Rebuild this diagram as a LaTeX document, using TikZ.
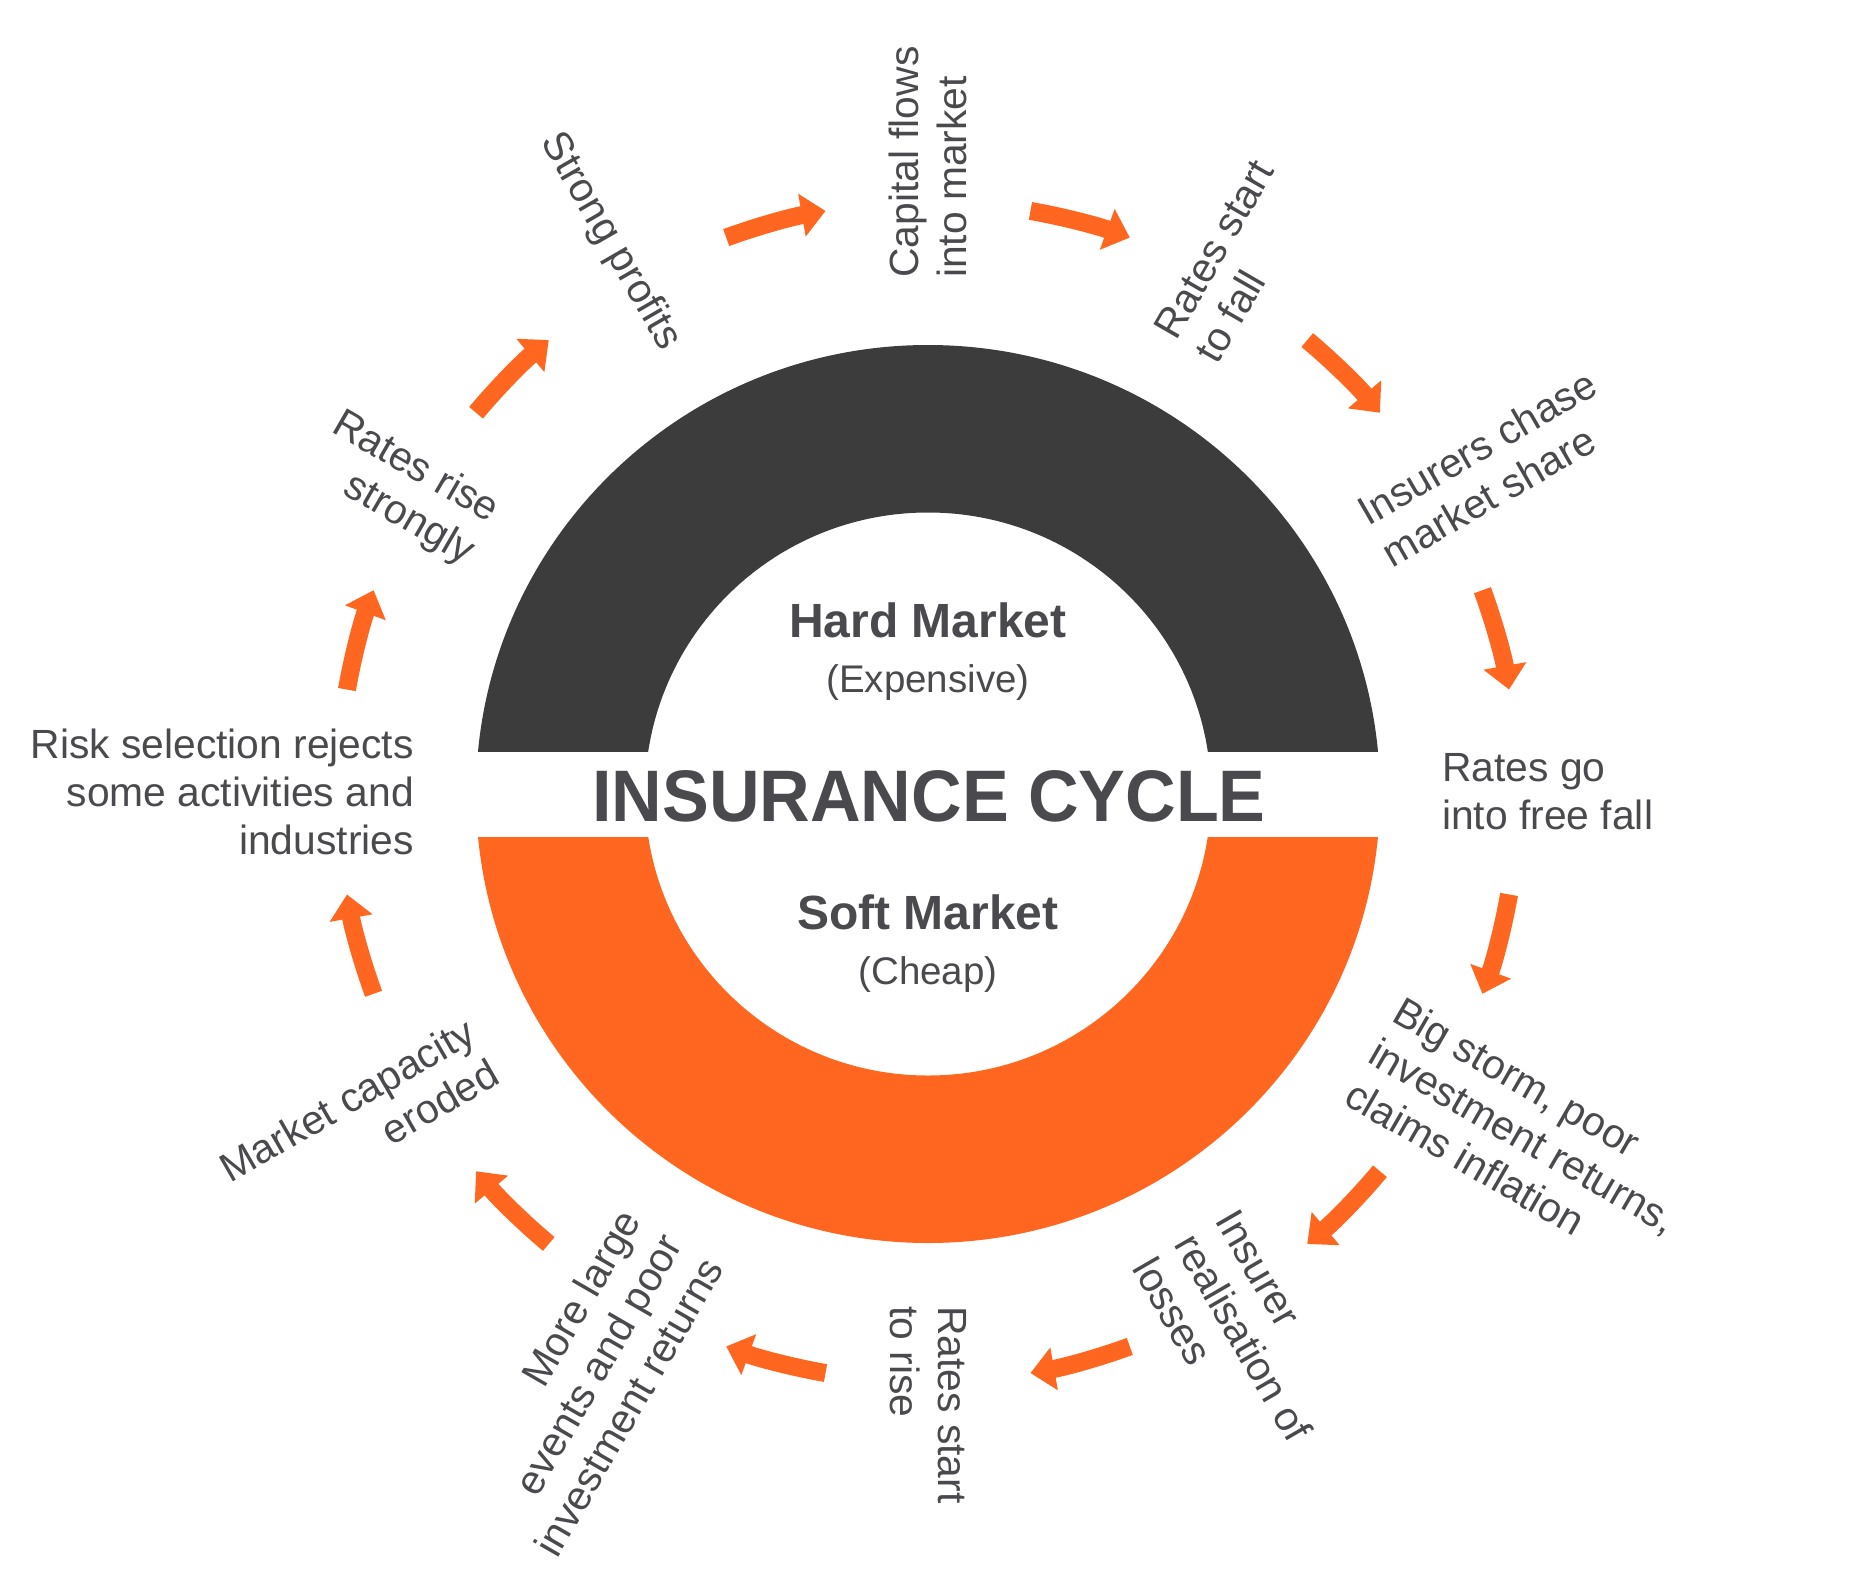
\documentclass[tikz,border=0pt]{standalone}
\usepackage{fontspec}
\setmainfont{Liberation Sans}
\newfontfamily\titlefont[FakeStretch=0.96]{Liberation Sans}
\usetikzlibrary{arrows.meta,calc}
\definecolor{ringdark}{HTML}{3C3C3C}
\definecolor{ringorange}{HTML}{FF6720}
\definecolor{txtgray}{HTML}{4A4A4E}
\begin{document}
\begin{tikzpicture}[x=1pt,y=1pt,
  lab/.style={text=txtgray,inner sep=0pt,font=\fontsize{40.8}{48}\selectfont},
  labR/.style={lab,anchor=west,align=left},
  labL/.style={lab,anchor=east,align=right},
  headtxt/.style={text=txtgray,inner sep=0pt,anchor=base,font=\fontsize{48}{56}\selectfont\bfseries},
  subtxt/.style={text=txtgray,inner sep=0pt,anchor=base,font=\fontsize{38.5}{46}\selectfont},
  titletxt/.style={text=txtgray,inner sep=0pt,anchor=base,font=\titlefont\fontsize{73}{80}\selectfont\bfseries},
  cyc/.style={draw=ringorange,line width=18pt,-{Triangle[width=42pt,length=24pt]}}]
\useasboundingbox (0,0) rectangle (1865,-1581);
\coordinate (C) at (928,-794);
\coordinate (L) at (928,-792);
% hard market half ring
\begin{scope}
  \clip (0,-751) rectangle (1865,0);
  \fill[ringdark,even odd rule] (C) ellipse[x radius=452pt,y radius=449pt]
                               (C) ellipse[x radius=283pt,y radius=281.5pt];
\end{scope}
% soft market half ring
\begin{scope}
  \clip (0,-837) rectangle (1865,-1581);
  \fill[ringorange,even odd rule] (C) ellipse[x radius=452pt,y radius=449pt]
                                 (C) ellipse[x radius=283pt,y radius=281.5pt];
\end{scope}
% centre texts
\node[headtxt] (hard) at (928,-637) {Hard Market};
\node[subtxt] (expensive) at (928,-692) {(Expensive)};
\node[titletxt] (title) at (929,-821) {INSURANCE CYCLE};
\node[headtxt] (soft) at (928,-929) {Soft Market};
\node[subtxt] (cheap) at (928,-984) {(Cheap)};
% labels round the cycle
\node[labR,rotate=90] (capital) at ($(L)+(90:514)$) {Capital flows\\into market};
\node[labR,rotate=60] (fall) at ($(L)+(60:514)$) {Rates start\\to fall};
\node[labR,rotate=30] (chase) at ($(L)+(30:514)$) {Insurers chase\\market share};
\node[labR] (freefall) at ($(L)+(0:514)$) {Rates go\\into free fall};
\node[labR,rotate=-30] (storm) at ($(L)+(-30:514)$) {Big storm, poor\\investment returns,\\claims inflation};
\node[labR,rotate=-60] (losses) at ($(L)+(-60:514)$) {Insurer\\realisation of\\losses};
\node[labR,rotate=-90] (rise) at ($(L)+(-90:514)$) {Rates start\\to rise};
\node[labL,rotate=60] (events) at ($(L)+(240:514)$) {More large\\events and poor\\investment returns};
\node[labL,rotate=30] (capacity) at ($(L)+(210:514)$) {Market capacity\\eroded};
\node[labL] (risk) at ($(L)+(180:514)$) {Risk selection rejects\\some activities and\\industries};
\node[labL,rotate=-30] (strongly) at ($(L)+(150:514)$) {Rates rise\\strongly};
\node[labL,rotate=-60] (profits) at ($(L)+(120:514)$) {Strong profits};
% cycle arrows
\foreach \i in {0,...,11}{
  \pgfmathsetmacro{\angMid}{15+30*\i}
  \pgfmathsetmacro{\angStart}{\angMid+5}
  \pgfmathsetmacro{\angEnd}{\angMid-5}
  \coordinate (arr\i) at ($(L)+(\angStart:590)$);
  \draw[cyc] (arr\i) arc[start angle=\angStart,end angle=\angEnd,radius=590pt];
}
\end{tikzpicture}
\end{document}
